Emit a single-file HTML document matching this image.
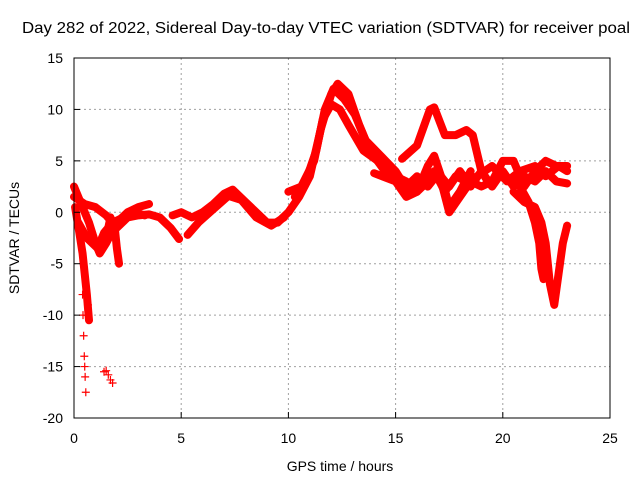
<!DOCTYPE html>
<html><head><meta charset="utf-8"><style>
body{margin:0;background:#fff}
svg{display:block;font-family:"Liberation Sans",sans-serif}
</style></head><body>
<svg id="c" width="640" height="480">
<rect width="640" height="480" fill="#fff"/>
<text x="326" y="33" text-anchor="middle" font-size="15.5" textLength="608" lengthAdjust="spacingAndGlyphs">Day 282 of 2022, Sidereal Day-to-day VTEC variation (SDTVAR) for receiver poal</text>
<g id="grid"></g>
<g id="series"></g>
<g id="axes"></g>
<text x="340" y="471" text-anchor="middle" font-size="14">GPS time / hours</text>
<text transform="translate(19,238) rotate(-90)" text-anchor="middle" font-size="14">SDTVAR / TECUs</text>
</svg>
<script>
const xTicks=[0,5,10,15,20,25];
const yTicks=[15,10,5,0,-5,-10,-15,-20];
const track1=[[0,2.5],[0.3,1],[0.7,-1],[1,-3],[1.2,-4],[1.5,-3],[2,-1],[2.5,0],[3,0.5],[3.5,0.8]];
const track2=[[0,1.5],[0.5,0.8],[1,0.5],[1.5,-0.3],[2,-1.5],[2.5,-0.5],[3,-0.3],[3.5,-0.2],[4,-0.5],[4.5,-1.5],[4.9,-2.6]];
const track3=[[0.05,0.5],[0.25,-2],[0.4,-4],[0.5,-6],[0.6,-8],[0.7,-10.5]];
const track4=[[1.5,-2.5],[1.7,-0.5],[1.9,-1.5],[2.0,-3.5],[2.1,-5]];
const track5=[[4.6,-0.3],[5,0],[5.5,-0.5],[6,0],[6.5,0.8],[7,1.8],[7.4,2.2],[8,1],[8.5,0],[9,-1],[9.5,-1],[10,0],[10.5,1.5],[11,3.5],[11.5,8],[12,11.5],[12.3,12.5],[12.8,11.5],[13.3,8.5],[13.8,6],[14.5,4],[15,3],[15.5,2.5],[16,3.5],[16.5,2.5],[17,3.8],[17.5,2.5],[18,4],[18.5,2.5],[19,4],[19.5,2.5],[20,4],[20.5,2.5],[21,3.5],[21.5,3],[22,4],[22.5,3],[23,2.8]];
const track6=[[5.3,-2.2],[5.8,-1],[6.5,0.3],[7.2,1.6],[7.8,1.2],[8.5,-0.5],[9.2,-1.3],[9.8,-0.5]];
const track7=[[10,2],[10.6,2.5],[11.2,5],[11.6,9],[12,10.5],[12.4,10],[12.8,8.5],[13.5,6],[14.5,4.5],[15,3.5],[15.5,3],[16,2],[16.5,3],[17,4],[17.5,0],[18,1.5],[18.5,3],[19,2.5],[19.5,3],[20,5],[20.5,5],[21,2.5],[21.5,4],[22,5],[22.5,4.5],[23,4.5]];
const track8=[[15.3,5.2],[16,6.5],[16.6,10],[16.8,10.2],[17.3,7.5],[17.8,7.5],[18.3,8],[18.6,7.5],[19,4],[19.3,3]];
const track9=[[14,3.8],[15,3],[15.5,1.5],[16,2],[16.5,4.5],[16.8,5.5],[17.2,3],[17.5,0.5],[18,2],[18.5,4]];
const track10=[[20.5,2],[21,1],[21.5,0.5],[21.8,-1],[22,-3],[22.2,-7],[22.4,-9],[22.6,-6],[22.8,-3],[23,-1.3]];
const track11=[[20.8,2.5],[21.2,1],[21.5,-1],[21.7,-3],[21.8,-5.5],[21.9,-6.5]];
const track12=[[10.3,1.5],[10.8,3],[11.3,6],[11.7,10],[12.1,12],[12.6,11],[13.1,9.5],[13.6,7],[14.3,5.5],[15,4],[15.6,2],[16.2,3],[16.8,4],[17.3,2],[17.8,3.5],[18.3,3],[18.8,3.5],[19.5,4.5],[20.2,3],[20.8,4],[21.5,4.5],[22,3.5],[22.6,4.5],[23,4]];
const track13=[[0.2,-1],[0.6,-2.5],[1.1,-3.5],[1.4,-2],[1.8,-1],[2.3,-0.5],[2.8,0],[3.3,-0.3]];
const sparse1=[[0.4,-8],[0.42,-10],[0.45,-12],[0.48,-14],[0.5,-15],[0.52,-16],[0.55,-17.5],[0.6,-10],[0.65,-9]];
const sparse2=[[1.4,-15.5],[1.5,-15.4],[1.6,-15.8],[1.7,-16.3],[1.8,-16.6]];
const L=74,R=610,T=58,B=418;
const xs=v=>L+(v-0)/(25-0)*(R-L);
const ys=v=>T+(15-v)/(15-(-20))*(B-T);
const NS='http://www.w3.org/2000/svg';
function mk(tag,parent,attrs){const e=document.createElementNS(NS,tag);for(const k in attrs)e.setAttribute(k,attrs[k]);parent.appendChild(e);return e;}
const grid=document.getElementById('grid'),axes=document.getElementById('axes'),ser=document.getElementById('series');
xTicks.forEach(t=>{
 if(t>0&&t<25){const l=mk('line',grid,{x1:xs(t),x2:xs(t),y1:T,y2:B,stroke:'#a0a0a0','stroke-dasharray':'2,3'});
 }
 const tk=mk('line',axes,{x1:xs(t),x2:xs(t),y1:B,y2:B-6,stroke:'#000'});
 
 const tx=mk('text',axes,{x:xs(t),y:443,'text-anchor':'middle','font-size':14});tx.textContent=t;
 
});
yTicks.forEach(t=>{
 if(t<15&&t>-20){const l=mk('line',grid,{x1:L,x2:R,y1:ys(t),y2:ys(t),stroke:'#a0a0a0','stroke-dasharray':'2,3'});
 }
 const tk=mk('line',axes,{x1:L,x2:L+6,y1:ys(t),y2:ys(t),stroke:'#000'});
 
 const tx=mk('text',axes,{x:63,y:ys(t)+5,'text-anchor':'end','font-size':14});tx.textContent=t;
 
});
const fr=mk('rect',axes,{x:L,y:T,width:R-L,height:B-T,fill:'none',stroke:'#000'});

[track1,track2,track3,track4,track5,track6,track7,track8,track9,track10,track11,track12,track13].forEach((tr,i)=>{
 const p=mk('polyline',ser,{points:tr.map(d=>xs(d[0])+','+ys(d[1])).join(' '),fill:'none',stroke:'#f00','stroke-width':8,'stroke-linejoin':'round','stroke-linecap':'round'});
 
 
});
[sparse1,sparse2].forEach(sp=>sp.forEach(d=>{
 const x=xs(d[0]),y=ys(d[1]);
 const m=mk('path',ser,{d:`M${x-4},${y}H${x+4}M${x},${y-4}V${y+4}`,stroke:'#f00','stroke-width':1.2});
 
 
}));
</script>
</body></html>
